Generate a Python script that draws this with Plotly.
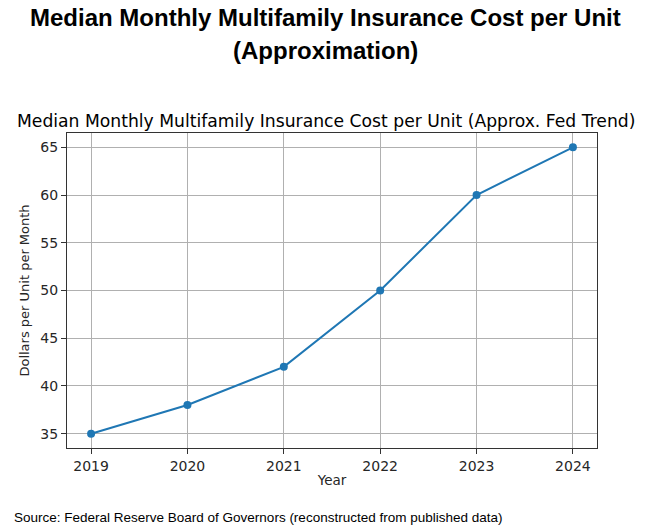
import plotly.graph_objects as go

years = [2019, 2020, 2021, 2022, 2023, 2024]
cost = [35, 38, 42, 50, 60, 65]
y_ticks = [35, 40, 45, 50, 55, 60, 65]

W, H = 650, 530
L, R, T, B = 67, 53, 133, 82
PW, PH = W - L - R, H - T - B


def px_x(x):
    return (x - L) / PW


def px_y(y):
    return (H - y - B) / PH


fig = go.Figure()
fig.add_trace(go.Scatter(
    x=years, y=cost, mode="lines+markers",
    line=dict(color="#1f77b4", width=2),
    marker=dict(color="#1f77b4", size=8),
    showlegend=False,
))

axis_common = dict(
    showline=True, mirror=True, linecolor="#333333", linewidth=1,
    ticks="outside", ticklen=5, tickcolor="#333333",
    showgrid=True, gridcolor="#b0b0b0", gridwidth=0.8,
    zeroline=False,
    tickfont=dict(family="DejaVu Sans", size=14, color="#262626"),
)

title_font = dict(family="Liberation Sans", size=24, color="black")

fig.update_layout(
    width=W, height=H,
    margin=dict(l=L, r=R, t=T, b=B),
    paper_bgcolor="white", plot_bgcolor="white",
    xaxis=dict(range=[2018.75, 2024.25], tickvals=years,
               ticktext=[str(y) for y in years],
               title=dict(text="Year", standoff=2,
                          font=dict(family="DejaVu Sans", size=13.5, color="#262626")),
               **axis_common),
    yaxis=dict(range=[33.5, 66.5], tickvals=y_ticks,
               title=dict(text="Dollars per Unit per Month", standoff=7,
                          font=dict(family="DejaVu Sans", size=13, color="#262626")),
               **axis_common),
    annotations=[
        dict(text="<b>Median Monthly Multifamily Insurance Cost per Unit</b>",
             x=px_x(325), y=px_y(18), xref="paper", yref="paper",
             showarrow=False, xanchor="center", yanchor="middle",
             borderpad=0, font=title_font),
        dict(text="<b>(Approximation)</b>",
             x=px_x(325), y=px_y(50), xref="paper", yref="paper",
             showarrow=False, xanchor="center", yanchor="middle",
             borderpad=0, font=title_font),
        dict(text="Median Monthly Multifamily Insurance Cost per Unit (Approx. Fed Trend)",
             x=px_x(326), y=px_y(121), xref="paper", yref="paper",
             showarrow=False, xanchor="center", yanchor="middle",
             font=dict(family="DejaVu Sans", size=17.2, color="black")),
        dict(text="Source: Federal Reserve Board of Governors (reconstructed from published data)",
             x=px_x(12), y=px_y(517), xref="paper", yref="paper",
             showarrow=False, xanchor="left", yanchor="middle",
             font=dict(family="Liberation Sans", size=13.5, color="black")),
    ],
)

fig.write_html(
    "out.html",
    config={"displayModeBar": False},
    post_script="document.body.style.margin='0';document.body.style.padding='0';",
)
